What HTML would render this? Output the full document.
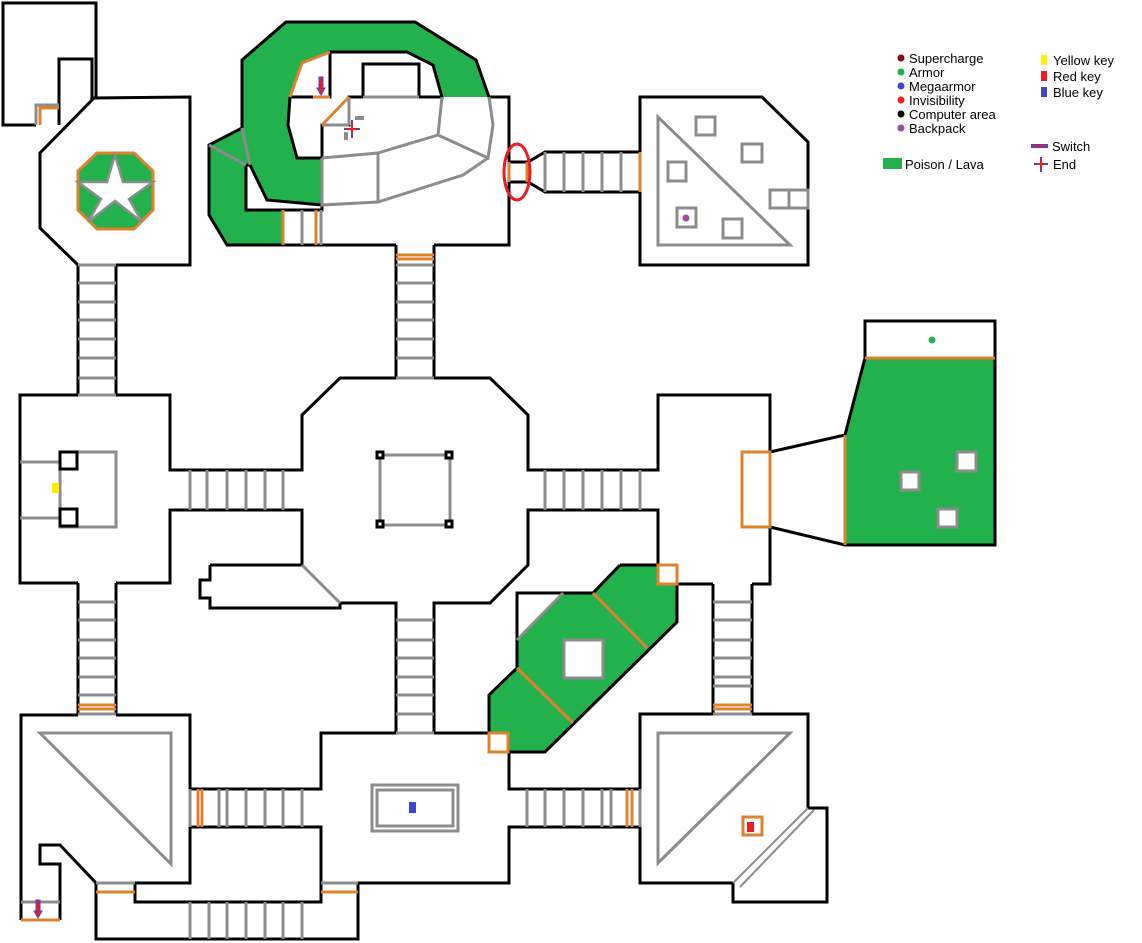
<!DOCTYPE html>
<html><head><meta charset="utf-8"><style>
html,body{margin:0;padding:0;background:#fff}
svg{display:block}
text{font-family:"Liberation Sans",sans-serif;font-size:13px;fill:#000}
</style></head><body>
<svg width="1142" height="943" viewBox="0 0 1142 943" xmlns="http://www.w3.org/2000/svg">
<g fill="none" stroke-linejoin="miter">
<!-- greens -->
<g fill="#23b14d" stroke="none">
<path d="M286,22 L415,22 L476,60 L489,97 L442,97 L433,65 L407,52 L330,52 L302,63 L290,97 L288,125 L297,158 L322,158 L322,205 L267,200 L250,165 L246,165 L246,210 L282,210 L282,245 L227,245 L209,215 L209,145 L242,128 L242,60 Z"/>
<path d="M865,358 L995,358 L995,545 L845,545 L845,435 Z"/>
<path d="M620,565 L677,565 L677,622 L545,752 L489,752 L489,695 L517,668 L517,640 L563,593 L593,593 Z"/>
</g>
<!-- black walls -->
<g stroke="#000" stroke-width="3">
<path d="M36,125 L3,125 L3,3 L96,3 L96,97 M92,100 L92,59 L59,59 L59,125"/>
<path d="M78,265 L40,228 L40,153 L94,98 L190,97 L190,265 L116,265"/>
<path d="M78,265 L78,395 M116,265 L116,395"/>
<path d="M78,395 L20,395 L20,583 L78,583 M116,395 L170,395 L170,470 L302,470 L302,415 L340,378 L396,378 L396,245 M434,245 L434,378 L490,378 L528,415 L528,470 L658,470 L658,395 L770,395 L770,452 M770,527 L770,584 L752,584 M713,584 L677,584"/>
<path d="M116,583 L170,583 L170,510 L302,510 L302,565 M210,565 L302,565 M210,565 L210,580 L200,580 L200,598 L210,598 L210,608 L340,608 L340,603 L396,603 L396,733 M434,733 L434,603 L490,603 L528,565 L528,510 L658,510 L658,565"/>
<path d="M78,583 L78,715 M116,583 L116,715"/>
<path d="M78,715 L21,715 L21,920 M60,920 L60,864 L40,864 L40,845 L60,845 L96,883 L96,939 L358,939 L358,883 L509,883 L509,827 L640,827 L640,883 L733,883 L733,902 L827,902 L827,808 L808,808 L808,714 L752,714 M713,714 L640,714 L640,789 L509,789 L509,752"/>
<path d="M116,715 L190,715 L190,789 L321,789 L321,733 L396,733 M434,733 L489,733"/>
<path d="M190,827 L321,827 L321,883 M135,883 L135,902 L321,902 L321,883 M96,883 L190,883 L190,827"/>
<path d="M713,584 L713,714 M752,584 L752,714"/>
<path d="M770,452 L845,435 L865,358 L865,321 L995,321 L995,545 L845,545 L770,527"/>
<path d="M620,565 L677,565 L677,622 L545,752 L489,752 L489,695 L517,668 L517,593 L593,593 L620,565 M517,593 L563,593"/>
<path d="M658,565 L658,584"/>
<!-- top complex -->
<path d="M509,182 L509,245 L434,245 M396,245 L227,245 L209,215 L209,145 L242,128 L242,60 L286,22 L415,22 L476,60 L489,97 L509,97 L509,162 L528,162 L545,152 L640,152 M509,182 L528,182 L545,192 L640,192"/>
<path d="M290,97 L288,125 L297,158 L322,158 L322,125 L349,125 L349,97 L363,97 L363,64 L419,64 L419,97 L442,97 L433,65 L407,52 L330,52 L330,97 L290,97"/>
<path d="M250,165 L246,165 L246,210 L322,210 L322,205 L267,200 Z"/>
<path d="M640,97 L762,97 L808,142 L808,265 L640,265 Z"/>
</g>
<!-- gray -->
<g stroke="#8c8c8c" stroke-width="3">
<path d="M322,158 L378,153 L438,135 L442,97 M438,135 L488,158 L493,125 L489,97 M488,158 L463,175 L378,202 L322,205 L322,158 M378,153 L378,202 M322,125 L349,125 M349,97 L349,125 M363,97 L419,97"/>
<path d="M242,128 L250,165 M209,145 L246,165"/>
<path d="M302,210 L302,245 M321,210 L321,245"/>
<path d="M545,152 L545,192 M564,152 L564,192 M583,152 L583,192 M602,152 L602,192 M621,152 L621,192"/>
<path d="M658,117 L658,245 L790,245 Z"/>
<rect x="696" y="117" width="19" height="18"/><rect x="742" y="144" width="20" height="18"/><rect x="668" y="162" width="18" height="19"/><rect x="723" y="219" width="19" height="19"/><rect x="677" y="208" width="19" height="19"/>
<path d="M770,190 L808,190 L808,208 L770,208 Z M789,190 L789,208"/>
<path d="M396,265 L434,265 M396,283 L434,283 M396,302 L434,302 M396,320 L434,320 M396,339 L434,339 M396,358 L434,358 M396,378 L434,378"/>
<path d="M78,265 L116,265 M78,283 L116,283 M78,302 L116,302 M78,320 L116,320 M78,339 L116,339 M78,358 L116,358 M78,378 L116,378 M78,395 L116,395"/>
<path d="M190,470 L190,510 M207,470 L207,510 M227,470 L227,510 M246,470 L246,510 M265,470 L265,510 M283,470 L283,510"/>
<path d="M545,470 L545,510 M564,470 L564,510 M583,470 L583,510 M602,470 L602,510 M621,470 L621,510 M640,470 L640,510"/>
<rect x="60" y="452" width="56" height="75"/>
<path d="M20,462 L60,462 M20,518 L60,518"/>
<rect x="380" y="455" width="70" height="70"/>
<path d="M302,565 L340,603"/>
<path d="M78,602 L116,602 M78,620 L116,620 M78,640 L116,640 M78,658 L116,658 M78,677 L116,677 M78,695 L116,695 M78,714 L116,714"/>
<path d="M396,620 L434,620 M396,640 L434,640 M396,658 L434,658 M396,677 L434,677 M396,695 L434,695 M396,714 L434,714 M396,733 L434,733"/>
<path d="M713,602 L752,602 M713,620 L752,620 M713,640 L752,640 M713,658 L752,658 M713,677 L752,677 M713,686 L752,686 M713,714 L752,714"/>
<path d="M517,640 L563,593"/>
<rect x="564" y="640" width="39" height="38" fill="#fff"/>
<path d="M40,733 L171,733 L171,864 Z"/>
<path d="M219,789 L219,827 M227,789 L227,827 M246,789 L246,827 M265,789 L265,827 M283,789 L283,827 M302,789 L302,827 M190,789 L190,827"/>
<path d="M190,902 L190,939 M209,902 L209,939 M227,902 L227,939 M246,902 L246,939 M265,902 L265,939 M283,902 L283,939 M302,902 L302,939"/>
<path d="M96,883 L135,883 M321,883 L358,883 M21,902 L60,902"/>
<rect x="372" y="785" width="86" height="46"/><rect x="377" y="790" width="76" height="36"/>
<path d="M527,789 L527,827 M545,789 L545,827 M564,789 L564,827 M583,789 L583,827 M602,789 L602,827 M611,789 L611,827 M640,789 L640,827"/>
<path d="M658,733 L790,733 L658,863 Z"/>
<path d="M808,808 L733,883 M814,810 L740,887" stroke-width="2"/>
<path d="M36,125 L36,105 L59,105"/>
</g>
<!-- orange -->
<g stroke="#e0822d" stroke-width="3">
<path d="M290,97 L302,63 L330,52 M313,97 L330,97 M322,125 L349,97"/>
<path d="M283,210 L283,245 M316,210 L316,245"/>
<path d="M509,162 L509,182 M527,162 L527,182 M640,152 L640,192"/>
<path d="M396,255 L434,255 M396,259 L434,259"/>
<path d="M78,705 L116,705 M78,709 L116,709 M713,705 L752,705 M713,709 L752,709"/>
<path d="M198,789 L198,827 M202,789 L202,827 M627,789 L627,827 M632,789 L632,827"/>
<path d="M96,892 L135,892 M321,892 L358,892 M21,920 L60,920 M40,125 L40,108 L59,108"/>
<rect x="742" y="452" width="28" height="75" fill="#fff"/>
<path d="M865,358 L995,358 M845,435 L845,545"/>
<path d="M593,593 L647,648 M517,668 L573,723"/>
<rect x="658" y="565" width="19" height="19" fill="#fff"/>
<rect x="489" y="733" width="19" height="19" fill="#fff"/>
<rect x="743" y="817" width="19" height="18" fill="#fff"/>
</g>
</g>
<!-- star -->
<polygon points="97,153 134,153 153,171 153,210 134,229 97,229 78,210 78,171" fill="#23b14d" stroke="#e0822d" stroke-width="3"/>
<polygon points="115,155 123,182 153,182 129,199 142,222 115,201 88,222 101,199 78,182 107,182" fill="#fff" stroke="#8c8c8c" stroke-width="2.5"/>
<!-- small black squares -->
<g fill="#fff" stroke="#000" stroke-width="3">
<rect x="60" y="452" width="17" height="17"/><rect x="60" y="509" width="17" height="17"/>
<rect x="377" y="452" width="6" height="6"/><rect x="446" y="452" width="6" height="6"/><rect x="377" y="521" width="6" height="6"/><rect x="446" y="521" width="6" height="6"/>
</g>
<g fill="#fff" stroke="#8c8c8c" stroke-width="3">
<rect x="901" y="472" width="18" height="18"/><rect x="957" y="452" width="19" height="19"/><rect x="938" y="509" width="19" height="18"/>
</g>
<!-- items -->
<rect x="52" y="483" width="7" height="10" fill="#ffee00"/>
<rect x="409" y="802" width="7" height="11" fill="#3f48cc"/>
<rect x="747" y="822" width="7" height="10" fill="#ed1c24"/>
<circle cx="932" cy="340" r="3.5" fill="#23b14d"/>
<circle cx="686" cy="218" r="3.5" fill="#a349a4"/>
<ellipse cx="517" cy="172" rx="13" ry="28" fill="none" stroke="#ed1c24" stroke-width="3"/>
<!-- switches -->
<path d="M319,77 L323,77 L323,88 L325,88 L321,95 L317,88 L319,88 Z" fill="#ed1c24" stroke="#3f48cc" stroke-width="1"/>
<path d="M36,900 L40,900 L40,911 L42,911 L38,918 L34,911 L36,911 Z" fill="#ed1c24" stroke="#3f48cc" stroke-width="1"/>
<path d="M352,120 L352,138 M344,129 L360,129" stroke="#3f48cc" stroke-width="2"/>
<path d="M352,123 L352,135 M347,129 L357,129" stroke="#ed1c24" stroke-width="2"/>
<path d="M355,118 L364,118 M346,132 L346,140" stroke="#8c8c8c" stroke-width="4"/>
<!-- legend -->
<circle cx="901" cy="58" r="3.5" fill="#880015"/><text x="909" y="63">Supercharge</text>
<circle cx="901" cy="72" r="3.5" fill="#23b14d"/><text x="909" y="77">Armor</text>
<circle cx="901" cy="86" r="3.5" fill="#3f48cc"/><text x="909" y="91">Megaarmor</text>
<circle cx="901" cy="100" r="3.5" fill="#ed1c24"/><text x="909" y="105">Invisibility</text>
<circle cx="901" cy="114" r="3.5" fill="#000"/><text x="909" y="119">Computer area</text>
<circle cx="901" cy="128" r="3.5" fill="#a349a4"/><text x="909" y="133">Backpack</text>
<rect x="883" y="158" width="19" height="11" fill="#23b14d"/><text x="905" y="169">Poison / Lava</text>
<rect x="1041" y="55" width="6" height="10" fill="#ffee00"/><text x="1053" y="65">Yellow key</text>
<rect x="1041" y="71" width="6" height="10" fill="#ed1c24"/><text x="1053" y="81">Red key</text>
<rect x="1041" y="87" width="6" height="10" fill="#3f48cc"/><text x="1053" y="97">Blue key</text>
<path d="M1031,146 L1048,146" stroke="#3f48cc" stroke-width="4"/><path d="M1033,146 L1046,146" stroke="#ed1c24" stroke-width="2"/><text x="1052" y="151">Switch</text>
<path d="M1041,157 L1041,172 M1034,164 L1048,164" stroke="#3f48cc" stroke-width="2"/><path d="M1041,159 L1041,169 M1037,164 L1045,164" stroke="#ed1c24" stroke-width="2"/><text x="1053" y="169">End</text>
</svg>
</body></html>
